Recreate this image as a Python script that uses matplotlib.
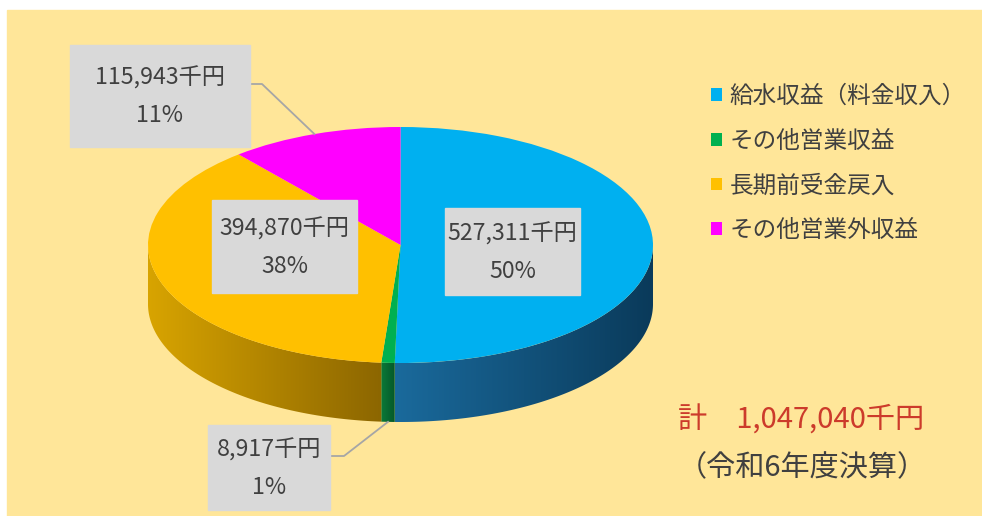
import numpy as np
import matplotlib.pyplot as plt
from matplotlib.patches import Polygon, Rectangle
from matplotlib.colors import to_rgb

plt.rcParams['font.family'] = ['Noto Sans CJK JP', 'DejaVu Sans']

# data
labels = ['給水収益（料金収入）', 'その他営業収益', '長期前受金戻入', 'その他営業外収益']
values = [527311, 8917, 394870, 115943]
percents = ['50%', '1%', '38%', '11%']
total_text = '計\u30001,047,040千円'
year_text = '（令和6年度決算）'

top_colors = ['#00B0F0', '#00B050', '#FFC000', '#FF00FF']
side_light = ['#1A6A9C', '#0B7A38', '#D8A400', '#B000B0']
side_dark = ['#0A3A5A', '#05582A', '#8C6600', '#800080']
text_col = '#404040'

W, H = 982, 516
fig = plt.figure(figsize=(W / 100, H / 100), dpi=100)
fig.patches.append(Rectangle((7 / W, 0), 1, 1 - 10 / H, transform=fig.transFigure,
                             color='#FFE699', zorder=-1))

ax = fig.add_axes([0, 0, 1, 1])
ax.axis('off')

# pie geometry in pixels (centre, semi axes, thickness)
cx, cy, a, b = 400.5, 245, 252.5, 118
depth = 59 / b

wedges, _ = ax.pie(values, colors=top_colors, startangle=90, counterclock=False,
                   wedgeprops=dict(linewidth=0))
for w in wedges:
    w.set_zorder(3)

# side walls of the front half, with a horizontal shading
for w, c1, c2 in zip(wedges, side_light, side_dark):
    for k in (0, -360):
        lo = max(w.theta1, -180 + k)
        hi = min(w.theta2, 0 + k)
        if hi <= lo:
            continue
        t = np.radians(np.linspace(lo, hi, 200))
        xs, ys = np.cos(t), np.sin(t)
        pts = np.r_[np.c_[xs, ys], np.c_[xs[::-1], ys[::-1] - depth]]
        poly = Polygon(pts, closed=True, fc='none', ec='none')
        ax.add_patch(poly)
        g = np.linspace(0, 1, 256)[:, None]
        img = (1 - g) * np.array(to_rgb(c1)) + g * np.array(to_rgb(c2))
        im = ax.imshow(img[None], extent=(xs.min(), xs.max(), ys.min() - depth, ys.max()),
                       aspect='auto', zorder=2, interpolation='bilinear')
        im.set_clip_path(poly)

ax.set_xlim(-cx / a, (W - cx) / a)
ax.set_ylim((cy - H) / b, cy / b)
ax.set_aspect('auto')


def to_data(px, py):
    return (px - cx) / a, (cy - py) / b


def mid_point(w, bottom=False):
    m = np.radians((w.theta1 + w.theta2) / 2)
    return np.cos(m), np.sin(m) - (depth if bottom else 0)


# leader lines
for (bx, by), (ex, ey), w, bottom in [((250, 84), (262, 84), wedges[3], False),
                                     ((330, 456), (344, 456), wedges[1], True)]:
    p0 = to_data(bx, by)
    p1 = to_data(ex, ey)
    p2 = mid_point(w, bottom)
    ax.plot([p0[0], p1[0], p2[0]], [p0[1], p1[1], p2[1]], color='#A6A6A6', lw=1.3, zorder=4)


def label_box(x0, y0, x1, y1, val, pct):
    fig.patches.append(Rectangle((x0 / W, 1 - y1 / H), (x1 - x0) / W, (y1 - y0) / H,
                                 transform=fig.transFigure, color='#D9D9D9', zorder=5))
    xc = (x0 + x1) / 2 / W
    ym = (y0 + y1) / 2
    fig.text(xc, 1 - (ym - 18) / H, f'{val:,}千円', ha='center', va='center',
             fontsize=16.7, color=text_col, zorder=6)
    fig.text(xc, 1 - (ym + 20) / H, pct, ha='center', va='center',
             fontsize=16.7, color=text_col, zorder=6)


label_box(445, 208, 580, 295, values[0], percents[0])
label_box(208, 425, 330, 510, values[1], percents[1])
label_box(212, 200, 357, 293, values[2], percents[2])
label_box(70, 45, 250, 147, values[3], percents[3])

ax.legend(wedges, labels, loc='upper left', bbox_to_anchor=(711 / W, 1 - 85 / H),
          bbox_transform=fig.transFigure, frameon=False, fontsize=17,
          handlelength=0.45, handleheight=0.45, handletextpad=0.35, labelspacing=0.92,
          labelcolor=text_col, borderpad=0, borderaxespad=0)

fig.text(678 / W, 1 - 421 / H, total_text, ha='left', va='center', fontsize=21, color='#CC3B2B')
fig.text(678 / W, 1 - 468 / H, year_text, ha='left', va='center', fontsize=21, color=text_col)

fig.savefig('out.png', dpi=100)
